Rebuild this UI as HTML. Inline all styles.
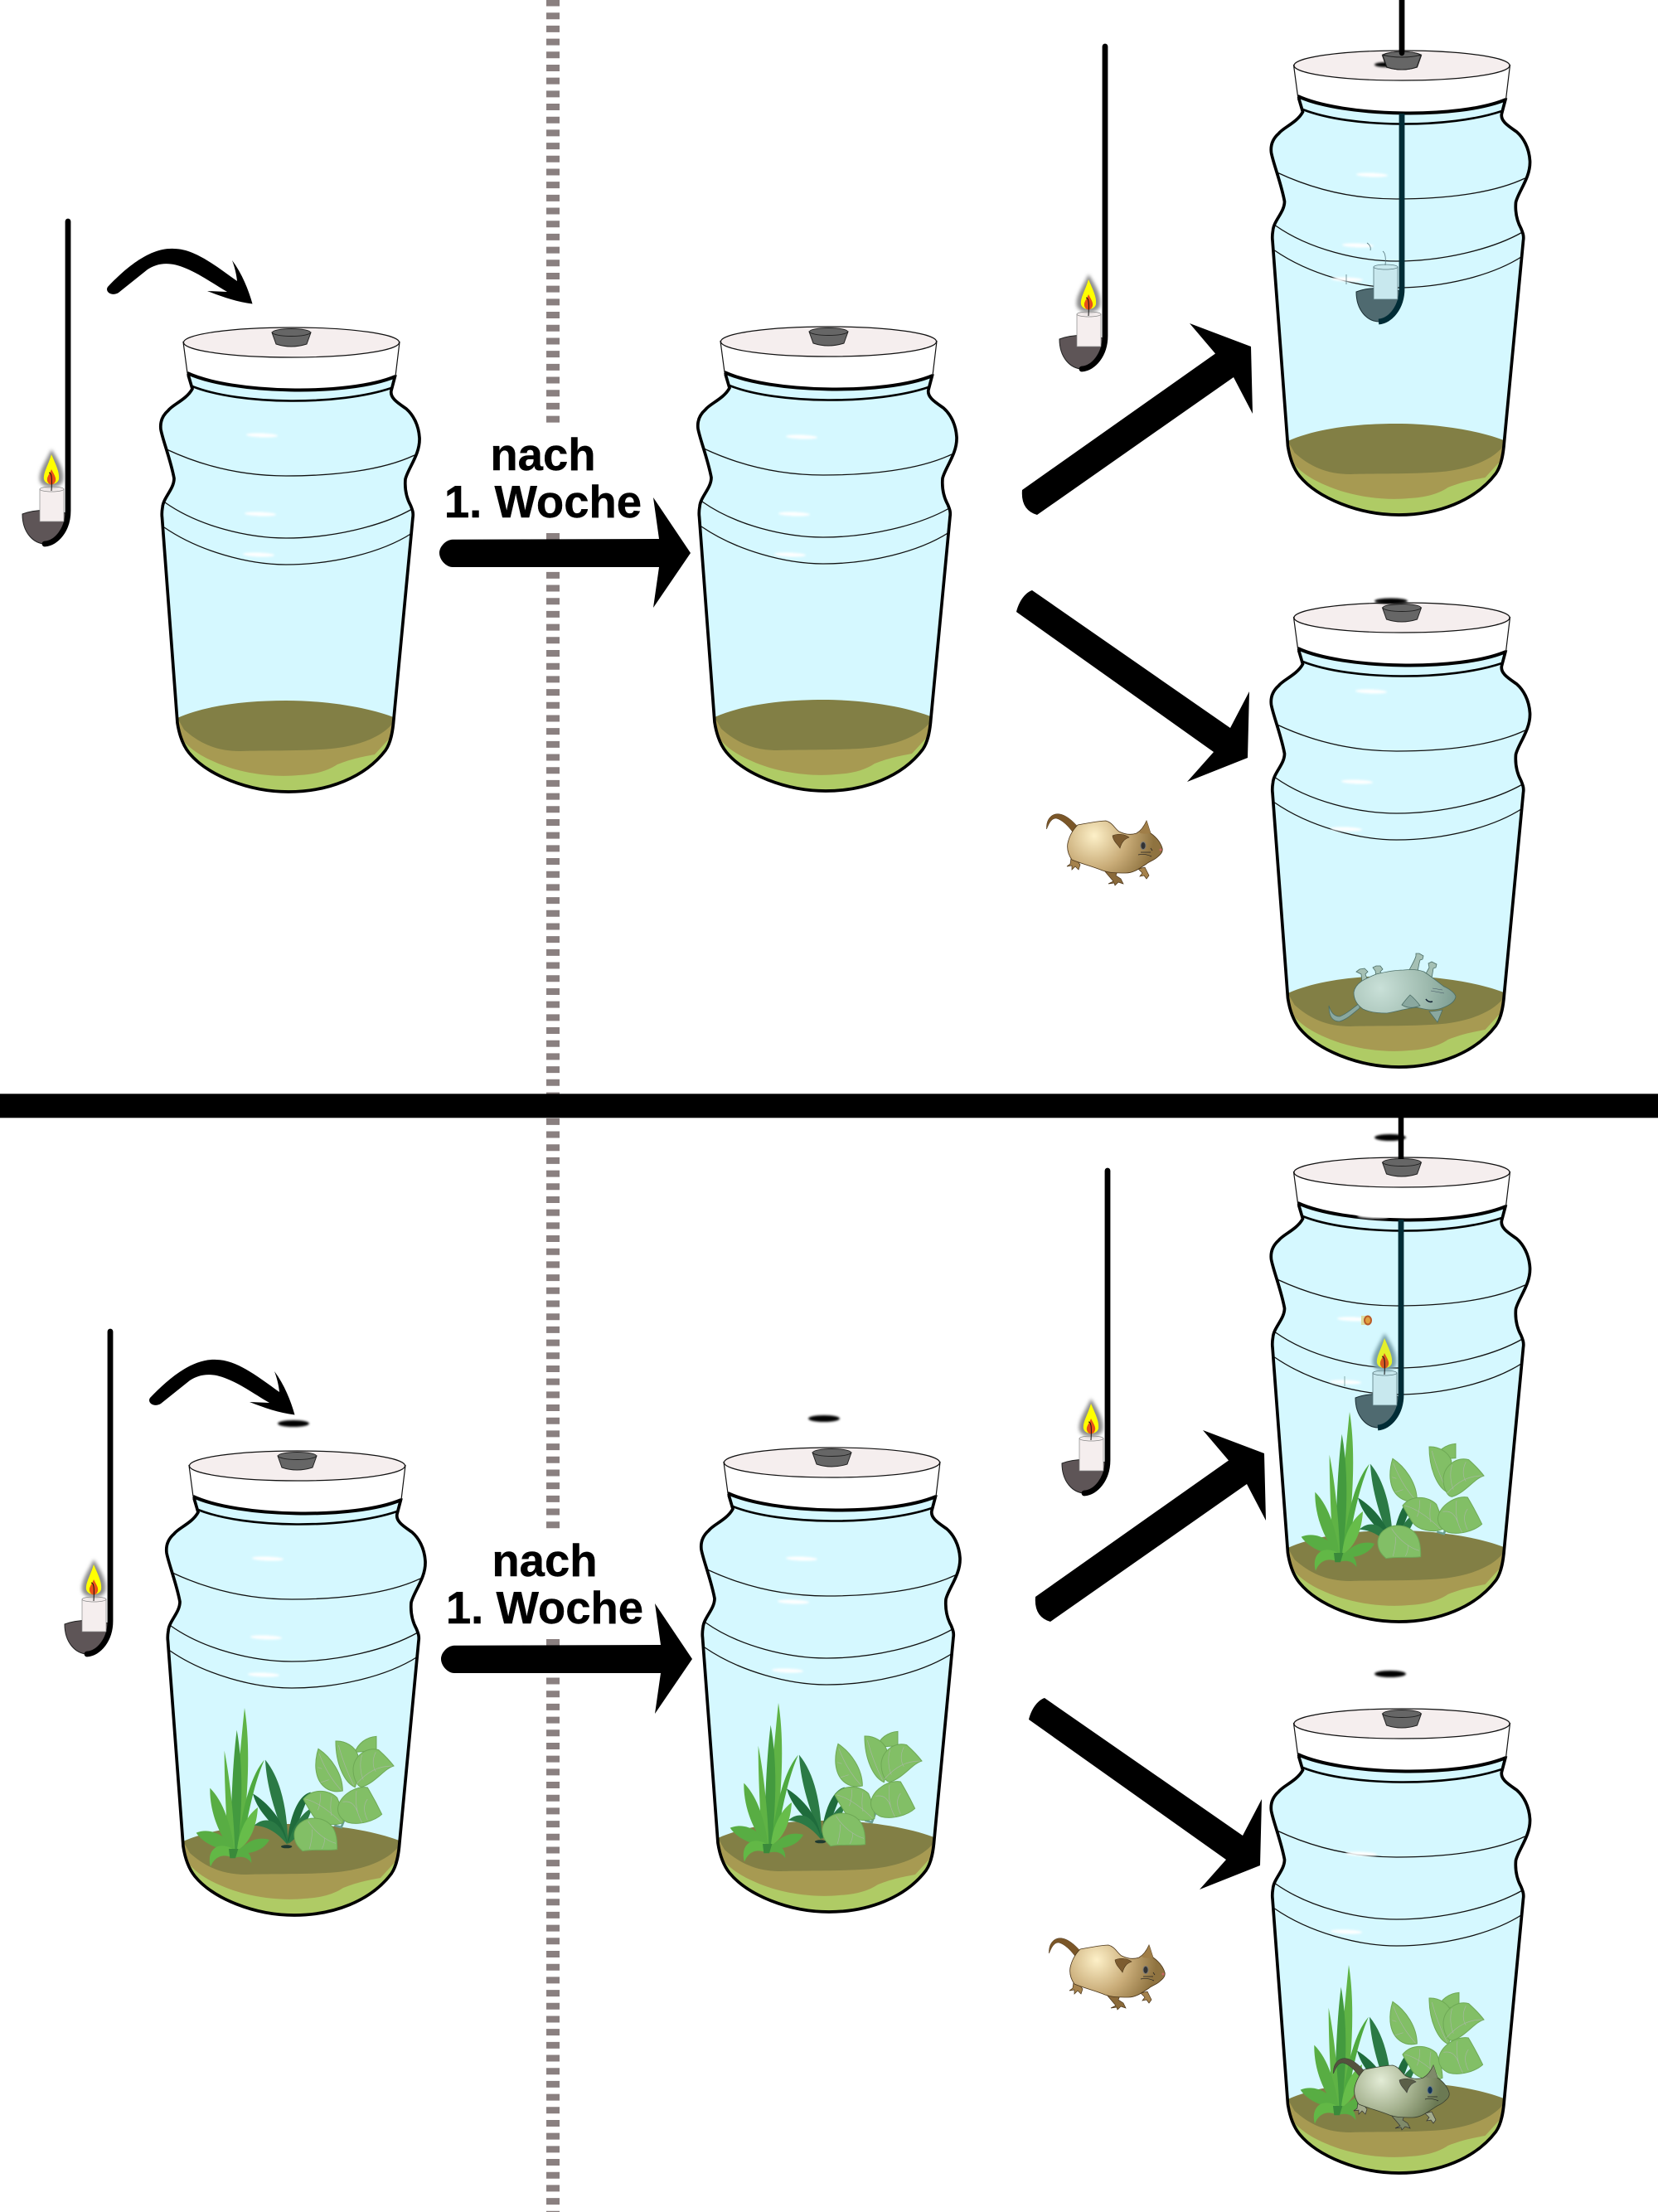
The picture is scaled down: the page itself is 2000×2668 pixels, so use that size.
<!DOCTYPE html>
<html><head><meta charset="utf-8"><style>html,body{margin:0;padding:0;background:#fff}svg{display:block}text{font-family:"Liberation Sans",sans-serif;font-weight:bold;font-size:54.500px;fill:#000;text-anchor:middle;stroke:#000;stroke-width:.4px}</style></head><body>
<svg xmlns="http://www.w3.org/2000/svg" width="2000" height="2668" viewBox="0 0 2000 2668">
<defs>
<filter id="b1" x="-50%" y="-100%" width="200%" height="300%"><feGaussianBlur stdDeviation="1.300"/></filter>
<filter id="b2" x="-50%" y="-50%" width="200%" height="200%"><feGaussianBlur stdDeviation="2"/></filter>
<radialGradient id="mg" gradientUnits="userSpaceOnUse" cx="80" cy="58" r="72"><stop offset="0" stop-color="#fdf0c8"/><stop offset=".55" stop-color="#c9ac78"/><stop offset="1" stop-color="#8f7340"/></radialGradient>
<radialGradient id="mg2" gradientUnits="userSpaceOnUse" cx="80" cy="58" r="72"><stop offset="0" stop-color="#e3ecd6"/><stop offset=".55" stop-color="#a3b08d"/><stop offset="1" stop-color="#6b7953"/></radialGradient>
<radialGradient id="mg3" gradientUnits="userSpaceOnUse" cx="1665" cy="1192" r="90"><stop offset="0" stop-color="#c9e0d8"/><stop offset=".6" stop-color="#a0bcb0"/><stop offset="1" stop-color="#7f9f94"/></radialGradient>
<clipPath id="bc"><path d="M227,452L232,469C225,482 208,488 203,495C195,502 193,510 194,518C196,530 206,555 210,577C210,590 197,600 196,612C195,618 195,620 195.500,624L214,872C216,885 220,898 228,908C250,935 300,955 348,955C395,955 440,938 465,905C472,895 474,880 475,867L498,624C499,618 497,614 495.500,610C490,600 488,590 489,578C492,565 507,548 506,528C505,512 498,500 490,493C480,486 470,480 472,471L477,452Z"/></clipPath>
<g id="jar">
<path d="M227,452L232,469C225,482 208,488 203,495C195,502 193,510 194,518C196,530 206,555 210,577C210,590 197,600 196,612C195,618 195,620 195.500,624L214,872C216,885 220,898 228,908C250,935 300,955 348,955C395,955 440,938 465,905C472,895 474,880 475,867L498,624C499,618 497,614 495.500,610C490,600 488,590 489,578C492,565 507,548 506,528C505,512 498,500 490,493C480,486 470,480 472,471L477,452Z" fill="#d5f8ff"/>
<g clip-path="url(#bc)">
<rect x="190" y="885" width="320" height="80" fill="#afcb65"/>
<path d="M205,866L485,866L475,885L452,910C430,914 420,917 407,922C395,930 380,934 360,935C330,938 290,933 259,919C245,913 230,905 218,890Z" fill="#a79a52"/>
<path d="M214,866C250,850 300,845 345,845C400,845 450,855 477,866L474,872C460,890 430,900 400,903C370,906 310,905 290,906C260,906 240,896 222,880Z" fill="#827f45"/>
</g>
<g fill="none" stroke="#111" stroke-width="1.300">
<path d="M201,542C250,565 300,574 345,574C400,574 460,568 500,549"/>
<path d="M199,606C240,635 300,649 345,649C400,649 460,635 497,614"/>
<path d="M198,636C240,665 300,681 345,681C400,681 460,667 497,643"/>
</g>
<path d="M227,452L232,469C225,482 208,488 203,495C195,502 193,510 194,518C196,530 206,555 210,577C210,590 197,600 196,612C195,618 195,620 195.500,624L214,872C216,885 220,898 228,908C250,935 300,955 348,955C395,955 440,938 465,905C472,895 474,880 475,867L498,624C499,618 497,614 495.500,610C490,600 488,590 489,578C492,565 507,548 506,528C505,512 498,500 490,493C480,486 470,480 472,471L477,452" fill="none" stroke="#000" stroke-width="3.700"/>
<path d="M232,466C290,489 410,489 472,468" fill="none" stroke="#000" stroke-width="2.600"/>
<path d="M221,412.500L226,450C280,475 420,478 477,454L482,412.500Z" fill="#fff" stroke="#111" stroke-width="1.200"/>
<path d="M226,450C280,475 420,478 477,454" fill="none" stroke="#000" stroke-width="4"/>
<ellipse cx="351.500" cy="413" rx="130" ry="18" fill="#f5eeee" stroke="#111" stroke-width="1.200"/>
<path d="M328,401L333,415Q351,421 370,415L375,401Z" fill="#666" stroke="#222" stroke-width="1"/>
<ellipse cx="351.500" cy="401" rx="23" ry="4.500" fill="#666" stroke="#222" stroke-width="1"/>
</g>
<g id="flame">
<path d="M-20,278C-10,293 -4,305 -6,316C-9,326 -31,326 -34,316C-36,305 -28,295 -20,278Z" fill="#8c8c8c" filter="url(#b2)"/>
<path d="M-20,284C-14,298 -10,306 -11,314C-13,322 -27,322 -29,314C-30,306 -24,298 -20,284Z" fill="#ffff00"/>
<path d="M-20,302C-17,308 -14,312 -15,316C-17,322 -23,322 -25,316C-26,311 -22,308 -20,302Z" fill="#e8501a"/>
<path d="M-23,306C-20,306 -19,311 -20,328" fill="none" stroke="#111" stroke-width="1"/>
</g>
<g id="ladle">
<path d="M-55,356C-55,378 -42,392 -27,392C-10,392 -1,375 0,356C-15,350 -40,350 -55,356Z" fill="#5e5557" stroke="#222" stroke-width="1"/>
<path d="M0,3V352C0,375 -14,391 -28,392" fill="none" stroke="#000" stroke-width="6.800" stroke-linecap="round"/>
<rect x="-34" y="326" width="29" height="39" fill="#f5eeee" stroke="#888" stroke-width=".7"/>
<ellipse cx="-19.500" cy="326" rx="14.500" ry="3" fill="#f5eeee" stroke="#888" stroke-width=".7"/>
<use href="#flame"/>
</g>
<g id="ladleIn">
<path d="M-55,356C-55,378 -42,392 -27,392C-10,392 -1,375 0,356C-15,350 -40,350 -55,356Z" fill="#4f6a70" stroke="#1c3036" stroke-width="1"/>
<path d="M0,141V352C0,375 -14,391 -28,392" fill="none" stroke="#012c36" stroke-width="6.800"/>
<rect x="-34" y="326" width="29" height="39" fill="#c8e8ee" stroke="#5a7a80" stroke-width=".8"/>
<ellipse cx="-19.500" cy="326" rx="14.500" ry="3" fill="#c8e8ee" stroke="#5a7a80" stroke-width=".8"/>
</g>
<g id="hl"><ellipse cx="0" cy="0" rx="19" ry="2.500" fill="#fff" filter="url(#b1)" transform="rotate(2)"/></g>
<g id="mouseParts">
<path d="M60,47C52,38 42,30 33,32C25,34 22,42 22.500,50C25,44 28,37 34,37C42,39 50,48 55,55Z" fill="#7a5628" stroke="#4a3418" stroke-width=".5"/>
<path d="M52,85L51,92L47,95L53,94L53,99L57,95L61,99L63,93L59,88Z" fill="#a5824c" stroke="#4a3418" stroke-width=".7"/>
<path d="M92,100L103,113L97,116L104,115L105,118L109,114L115,116L112,110L106,106L108,101Z" fill="#8a6a3a" stroke="#4a3418" stroke-width=".7"/>
<path d="M133,98L138,103L135,107L140,106L143,110L146,106L144,102L141,96Z" fill="#a5824c" stroke="#4a3418" stroke-width=".7"/>
</g>
<g id="mouse">
<use href="#mouseParts"/>
<path d="M60,45C72,43 85,40 94,40C102,42 105,50 110,53C118,57 125,57 131,55C136,52 140,47 143,40C145,45 146,50 148,55C155,60 160,66 162,73C163,77 161,80 157,83C152,88 148,88 143,92C135,97 128,103 118,103C108,103 98,103 90,100C78,95 65,92 53,87C48,80 47,73 48,67C50,58 55,50 60,45Z" fill="url(#mg)" stroke="#4a3418" stroke-width=".8"/>
<path d="M143,40C145,45 146,50 148,55C143,56 137,56 134,54C138,50 141,46 143,40Z" fill="#a07e48"/>
<path d="M102,58C108,55 117,56 122,60C116,62 113,66 111,73C108,68 103,65 102,58Z" fill="#7d5c30" stroke="#4a3418" stroke-width=".6"/>
<ellipse cx="139" cy="70" rx="3" ry="4.500" fill="#333" stroke="#777" stroke-width="1"/>
<path d="M133,81C138,80 143,80 149,83M136,78L148,78M148,73L150,76" fill="none" stroke="#222" stroke-width=".7"/>
<circle cx="160" cy="75" r="1.500" fill="#c66"/>
</g>
<g id="mouseG">
<path d="M60,47C52,38 42,30 33,32C25,34 22,42 22.500,50C25,44 28,37 34,37C42,39 50,48 55,55Z" fill="#55523e" stroke="#333" stroke-width=".5"/>
<path d="M52,85L51,92L47,95L53,94L53,99L57,95L61,99L63,93L59,88Z" fill="#a3ab8c" stroke="#333" stroke-width=".7"/>
<path d="M92,100L103,113L97,116L104,115L105,118L109,114L115,116L112,110L106,106L108,101Z" fill="#7f8a6a" stroke="#333" stroke-width=".7"/>
<path d="M133,98L138,103L135,107L140,106L143,110L146,106L144,102L141,96Z" fill="#a3ab8c" stroke="#333" stroke-width=".7"/>
<path d="M60,45C72,43 85,40 94,40C102,42 105,50 110,53C118,57 125,57 131,55C136,52 140,47 143,40C145,45 146,50 148,55C155,60 160,66 162,73C163,77 161,80 157,83C152,88 148,88 143,92C135,97 128,103 118,103C108,103 98,103 90,100C78,95 65,92 53,87C48,80 47,73 48,67C50,58 55,50 60,45Z" fill="url(#mg2)" stroke="#3a4030" stroke-width=".8"/>
<path d="M143,40C145,45 146,50 148,55C143,56 137,56 134,54C138,50 141,46 143,40Z" fill="#7f8a6a"/>
<path d="M102,58C108,55 117,56 122,60C116,62 113,66 111,73C108,68 103,65 102,58Z" fill="#5b5f48" stroke="#333" stroke-width=".6"/>
<ellipse cx="139" cy="70" rx="3" ry="4.500" fill="#135" stroke="#678" stroke-width="1"/>
<path d="M133,81C138,80 143,80 149,83M136,78L148,78" fill="none" stroke="#222" stroke-width=".7"/>
</g>
<g id="grass" transform="translate(180,2000) scale(.3333)">
<path d="M345,180C368,320 358,520 330,700L285,700C318,500 332,300 345,180Z" fill="#5fb345"/>
<path d="M317,260C342,400 336,550 320,700L292,700C298,500 302,380 317,260Z" fill="#439a3f"/>
<path d="M272,335C295,450 308,600 310,700L285,690C278,550 272,450 272,335Z" fill="#5fb345"/>
<path d="M417,368C370,420 335,540 318,700L345,640C362,540 385,440 417,368Z" fill="#4fa93f"/>
<path d="M220,470C275,525 298,620 310,705C258,655 218,560 220,470Z" fill="#58ad43"/>
<path d="M393,540C345,575 322,640 318,695C368,670 390,600 393,540Z" fill="#67bd4a"/>
<path d="M170,632C225,610 285,645 310,700C250,695 195,670 170,632Z" fill="#58ad43"/>
<path d="M435,657C385,642 345,670 315,705C365,712 415,695 435,657Z" fill="#58ad43"/>
<path d="M222,755C205,695 250,655 310,695L302,722C262,705 235,722 222,755Z" fill="#62b846"/>
<path d="M370,742C372,695 330,680 298,698L303,724C340,712 360,725 370,742Z" fill="#58ad43"/>
<path d="M288,690L322,690L312,724L292,724Z" fill="#3a8a3a"/>
</g>
<g id="dark" transform="translate(180,2000) scale(.3333)">
<ellipse cx="497" cy="682" rx="20" ry="6" fill="#1f3a30"/>
<path d="M420,368C480,440 500,560 502,672C470,600 425,480 420,368Z" fill="#2b7a45"/>
<path d="M375,490C425,520 490,585 500,672C455,600 395,565 375,490Z" fill="#1f6c3c"/>
<path d="M380,605C425,565 480,590 500,675C460,625 420,608 380,605Z" fill="#2b7a45"/>
<path d="M585,485C535,495 505,590 500,672C535,625 555,540 585,485Z" fill="#1f6c3c"/>
<path d="M590,540C545,565 515,620 503,672C545,645 575,590 590,540Z" fill="#2b7a45"/>
</g>
<g id="L1" transform="translate(180,2000) scale(.3333)"><path d="M612,328C660,360 700,420 700,480C660,490 610,470 603,400C601,375 605,350 612,328Z" fill="#82bf66" stroke="#6ea955" stroke-width="3"/><path d="M615,345C635,400 660,440 695,478M625,400L610,395M650,440L620,450" fill="none" stroke="#a6b8a0" stroke-width="2"/></g>
<g id="L2" transform="translate(180,2000) scale(.3333)"><path d="M675,300C710,298 745,320 755,350L760,420L745,467C705,450 675,380 675,300Z" fill="#82bf66" stroke="#6ea955" stroke-width="3"/><path d="M685,315C700,370 720,420 740,460" fill="none" stroke="#a6b8a0" stroke-width="2"/></g>
<g id="L3" transform="translate(180,2000) scale(.3333)"><path d="M822,283C785,285 755,310 745,340L822,335Z" fill="#82bf66" stroke="#6ea955" stroke-width="3"/></g>
<g id="L4" transform="translate(180,2000) scale(.3333)"><path d="M738,400C742,350 790,320 830,332C850,350 870,370 885,390C850,400 820,450 770,466C750,465 738,430 738,400Z" fill="#82bf66" stroke="#6ea955" stroke-width="3"/><path d="M750,455C790,410 830,390 880,390M770,350C760,380 765,420 775,440M820,340C805,370 810,395 820,410" fill="none" stroke="#a6b8a0" stroke-width="2"/></g>
<g id="L5" transform="translate(180,2000) scale(.3333)"><path d="M558,510C590,470 650,475 680,505C695,540 702,570 702,595C670,610 610,600 590,565C575,540 565,525 558,510Z" fill="#82bf66" stroke="#6ea955" stroke-width="3"/><path d="M565,510C610,520 660,560 695,595M620,490C620,520 615,540 610,550M660,500C655,530 655,550 660,570" fill="none" stroke="#a6b8a0" stroke-width="2"/></g>
<g id="L6" transform="translate(180,2000) scale(.3333)"><path d="M683,540C690,495 750,460 790,468C815,510 830,540 842,565C815,590 760,605 720,595C695,585 680,565 683,540Z" fill="#82bf66" stroke="#6ea955" stroke-width="3"/><path d="M750,480C745,520 750,560 770,595M700,520C730,515 745,530 755,560M790,510C775,530 775,555 790,585" fill="none" stroke="#a6b8a0" stroke-width="2"/></g>
<g id="L7" transform="translate(180,2000) scale(.3333)"><path d="M525,640C525,600 570,570 620,582C665,595 682,630 680,692C640,698 600,690 555,698C535,680 525,665 525,640Z" fill="#82bf66" stroke="#6ea955" stroke-width="3"/><path d="M575,590C600,630 640,660 675,670M590,620C590,650 585,670 580,690M635,650C635,670 630,680 625,690" fill="none" stroke="#a6b8a0" stroke-width="2"/></g>
<path id="stem" transform="translate(180,2000) scale(.3333)" d="M670,605L695,612L708,580" fill="none" stroke="#6a9e8f" stroke-width="8"/>
<path id="curve" d="M130,346C150,325 180,298 210,300C235,300 262,322 286,339C285,330 283,322 280,314C292,330 300,350 304.500,366.500C285,364 268,358 250,351L274,352C260,344 240,330 225,324C205,315 190,317 178,325L143,353C135,358 126,352 130,346Z"/>
<path id="arrowH" d="M546,650.700L795,650L788,600L833,667L788,733L795,684L546,684C538,684 530,675 530,667C530,659 538,651 546,650.700Z"/>
<path id="arrowU" d="M1233,591L1466,426.500L1435,390L1509,418L1511,499L1488,455L1251,621Q1231,615 1233,591Z"/>
<path id="arrowD" d="M1226,738C1229,726 1236,715 1245,712L1484,878L1507,834L1505,914L1432,943L1464,907Z"/>
</defs>

<path d="M667,-.5V2668" stroke="#8a8080" stroke-width="16" stroke-dasharray="8 7.690" fill="none"/>
<rect x="655" y="511" width="24" height="132" fill="#fff"/>
<rect x="655" y="1845" width="24" height="132" fill="#fff"/>
<rect x="0" y="1319.300" width="2000" height="29" fill="#000"/>

<text x="655" y="567">nach</text>
<text x="655" y="624">1. Woche</text>
<text x="657" y="1901">nach</text>
<text x="657" y="1958">1. Woche</text>

<use href="#arrowH"/>
<use href="#arrowH" x="2" y="1334"/>
<use href="#curve"/>
<use href="#curve" x="51" y="1340"/>
<use href="#arrowU"/>
<use href="#arrowU" x="16" y="1335"/>
<use href="#arrowD"/>
<use href="#arrowD" x="15" y="1336"/>

<!-- outside ladles -->
<use href="#ladle" x="82" y="264"/>
<use href="#ladle" x="1333" y="53"/>
<use href="#ladle" x="133" y="1603"/>
<use href="#ladle" x="1336" y="1409"/>

<!-- jars -->
<use href="#jar" x="0" y="0"/>
<use href="#jar" x="648" y="-1"/>
<use href="#jar" x="1339.500" y="-334"/>
<use href="#jar" x="1339.500" y="332"/>
<use href="#jar" x="7" y="1355"/>
<use href="#jar" x="652" y="1351"/>
<use href="#jar" x="1339.500" y="1001"/>
<use href="#jar" x="1339.500" y="1666"/>

<!-- highlights -->
<use href="#hl" x="316" y="525"/><use href="#hl" x="314" y="620"/><use href="#hl" x="312" y="669"/>
<use href="#hl" x="967" y="527"/><use href="#hl" x="958" y="620"/><use href="#hl" x="953" y="669"/>
<use href="#hl" x="1655" y="211"/><use href="#hl" x="1638" y="296"/><use href="#hl" x="1625" y="337"/>
<use href="#hl" x="1654" y="834"/><use href="#hl" x="1637" y="943"/><use href="#hl" x="1624" y="1000"/>
<use href="#hl" x="323" y="1880"/><use href="#hl" x="321" y="1975"/><use href="#hl" x="318" y="2020"/>
<use href="#hl" x="967" y="1880"/><use href="#hl" x="957" y="1932"/><use href="#hl" x="950" y="2015"/>
<use href="#hl" x="1656" y="1467"/><use href="#hl" x="1632" y="1591"/><use href="#hl" x="1623" y="1667"/>
<use href="#hl" x="1642" y="2236"/><use href="#hl" x="1624" y="2330"/>

<!-- black ellipses -->
<ellipse cx="354" cy="1717" rx="19" ry="4" fill="#000" filter="url(#b1)"/>
<ellipse cx="994" cy="1711" rx="19" ry="4" fill="#000" filter="url(#b1)"/>
<ellipse cx="1677" cy="1372" rx="19" ry="4" fill="#000" filter="url(#b1)"/>
<ellipse cx="1677" cy="2019" rx="19" ry="4" fill="#000" filter="url(#b1)"/>
<ellipse cx="1678" cy="725" rx="20" ry="3.500" fill="#000" filter="url(#b1)"/>
<ellipse cx="1672" cy="78" rx="14" ry="3" fill="#000" filter="url(#b1)"/>

<!-- jar 3 ladle -->
<use href="#ladleIn" x="1691" y="-4"/>
<path d="M1691,-4V66" stroke="#000" stroke-width="6.500" stroke-linecap="round"/>
<path d="M1668,67L1673,81Q1691,87 1709,81L1714,67Z" fill="#666" stroke="#222"/>
<path d="M1668,66C1680,61 1702,61 1714,66C1702,70 1680,70 1668,66Z" fill="#666" stroke="#222"/>
<path d="M1691,-4V64" stroke="#000" stroke-width="6.500" stroke-linecap="round"/>
<path d="M1649,293C1652,295 1654,298 1653,302M1668,303C1671,305 1672,310 1671,320M1624,331V343" fill="none" stroke="#5a7a80" stroke-width=".8"/>

<!-- jar 7 ladle -->
<use href="#ladleIn" x="1690" y="1330"/>
<path d="M1690,1348V1398" stroke="#000" stroke-width="6.500"/>
<g transform="translate(1690,1330)"><path d="M-20,278C-10,293 -4,305 -6,316C-9,326 -31,326 -34,316C-36,305 -28,295 -20,278Z" fill="#78a0aa" filter="url(#b2)"/><path d="M-20,284C-14,298 -10,306 -11,314C-13,322 -27,322 -29,314C-30,306 -24,298 -20,284Z" fill="#e4f02a"/><path d="M-20,302C-17,308 -14,312 -15,316C-17,322 -23,322 -25,316C-26,311 -22,308 -20,302Z" fill="#d85820"/><path d="M-23,306C-20,306 -19,311 -20,328" fill="none" stroke="#111" stroke-width="1"/></g>
<rect x="1642" y="1587" width="7" height="11" fill="#dcdca0"/>
<ellipse cx="1650" cy="1592.500" rx="4" ry="5" fill="#e0a040" stroke="#b85a28" stroke-width="2"/>
<path d="M1622,1660V1672" stroke="#8aa" stroke-width="1"/>

<!-- plants jar5 -->
<use href="#grass"/><use href="#dark"/>
<use href="#L3"/><use href="#L2"/><use href="#L4"/><use href="#L1"/><use href="#stem"/><use href="#L5"/><use href="#L6"/><use href="#L7"/>
<!-- plants jar6 -->
<use href="#grass" x="644" y="-6"/><use href="#dark" x="644" y="-6"/>
<use href="#L3" x="629" y="-6"/><use href="#L2" x="638" y="-6"/><use href="#L4" x="637" y="-6"/><use href="#L1" x="627" y="-6"/><use href="#stem" x="640" y="-6"/><use href="#L5" x="641" y="-5"/><use href="#L6" x="643" y="-7"/><use href="#L7" x="637" y="-6"/>
<!-- plants jar7 -->
<use href="#grass" x="1333" y="-357"/><use href="#dark" x="1333" y="-357"/>
<use href="#L3" x="1302" y="-353"/><use href="#L2" x="1319" y="-355"/><use href="#L4" x="1315" y="-350"/><use href="#L1" x="1296" y="-350"/><use href="#stem" x="1330" y="-354"/><use href="#L5" x="1326" y="-354"/><use href="#L6" x="1327" y="-350"/><use href="#L7" x="1307" y="-353"/>
<!-- plants jar8 -->
<use href="#grass" x="1332" y="310"/><use href="#dark" x="1332" y="310"/>
<use href="#L3" x="1306" y="309"/><use href="#L2" x="1319" y="310"/><use href="#L4" x="1315" y="306"/><use href="#L1" x="1296" y="305"/><use href="#L5" x="1326" y="308"/><use href="#L6" x="1328" y="302"/>

<!-- mice -->
<use href="#mouse" x="1240" y="950"/>
<use href="#mouse" x="1243" y="2306"/>
<use href="#mouseG" x="1586" y="2451"/>

<!-- dead mouse -->
<g stroke="#4c6e66" stroke-width=".8">
<path d="M1640,1216C1630,1224 1624,1230 1615.500,1232C1607,1232 1603,1226 1603,1213C1605,1220 1609,1226 1616,1226C1624,1223 1632,1216 1640,1210Z" fill="#8aa89f"/>
<path d="M1697,1176C1702,1165 1707,1158 1708,1153L1708,1150L1712,1150L1717,1153L1716,1157L1713,1158C1711,1164 1710,1172 1709,1182Z" fill="#a5c0b4"/>
<path d="M1718,1178L1724,1167L1723,1162L1727,1160L1733,1163L1732,1167L1729,1168L1727,1180Z" fill="#a5c0b4"/>
<path d="M1643,1185L1642,1175L1636,1172L1640,1169L1646,1168L1650,1172L1647,1175L1650,1183Z" fill="#a5c0b4"/>
<path d="M1660,1178L1659,1171L1656,1167L1660,1165L1665,1165L1668,1169L1665,1172L1667,1177Z" fill="#a5c0b4"/>
<path d="M1633,1197C1635,1185 1648,1180 1660,1175C1672,1172 1683,1170 1693,1170C1702,1169 1710,1169 1717.600,1172C1727,1178 1735,1185 1742,1190C1749,1193 1755,1198 1756,1202C1755,1208 1750,1211 1746,1213C1738,1217 1733,1218 1726,1218C1720,1218 1714,1216 1709,1215C1697,1216 1685,1220 1673,1222C1662,1222 1652,1221 1644,1217C1637,1212 1633,1205 1633,1197Z" fill="url(#mg3)"/>
<path d="M1691,1212C1694,1208 1697,1204 1701,1200C1706,1204 1710,1209 1713,1213C1705,1216 1697,1216 1691,1212Z" fill="#8aa89f"/>
<path d="M1724,1220C1728,1225 1731,1229 1734,1233C1736,1228 1738,1223 1740,1218C1735,1219 1729,1220 1724,1220Z" fill="#8aa89f"/>
</g>
<path d="M1720,1205C1722,1208 1725,1209 1728,1208" fill="none" stroke="#123" stroke-width="1.500"/>
<path d="M1726,1195L1742,1198M1728,1192L1740,1194" fill="none" stroke="#456" stroke-width=".6"/>
</svg>
</body></html>
